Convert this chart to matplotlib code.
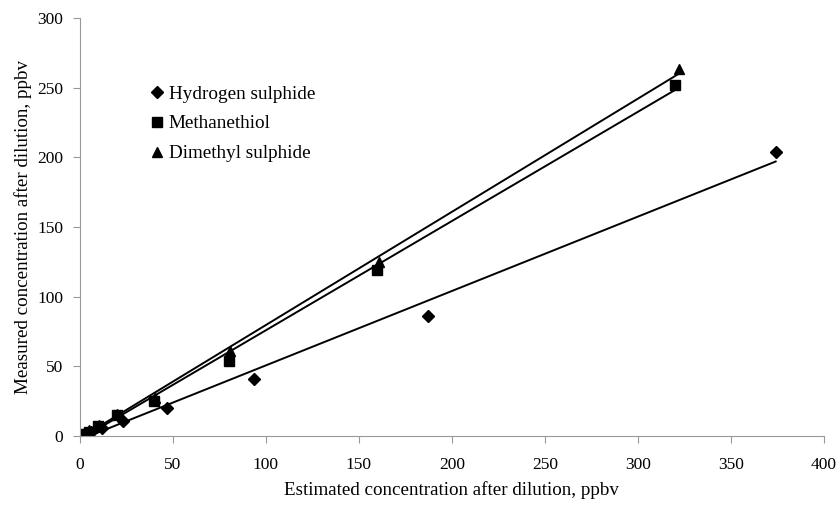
import numpy as np
import matplotlib.pyplot as plt

plt.rcParams["font.family"] = "Liberation Serif"
plt.rcParams["font.size"] = 12.5

# estimated concentration after dilution (ppbv)
h2s_x = [1.46, 2.92, 5.84, 11.7, 23.4, 46.7, 93.5, 187, 374]
h2s_y = [0.8, 1.5, 3.0, 6.0, 11, 20, 41, 86, 204]
mt_x = [1.25, 2.5, 5.0, 10, 20, 40, 80, 160, 320]
mt_y = [0.8, 1.5, 3.0, 7.0, 15, 25, 54, 119, 252]
dms_x = [1.26, 2.52, 5.04, 10.1, 20.1, 40.3, 80.5, 161, 322]
dms_y = [1.0, 2.0, 4.0, 8.0, 16, 27, 61, 125, 263]

series = [
    ("Hydrogen sulphide", h2s_x, h2s_y, "D", 6.5),
    ("Methanethiol", mt_x, mt_y, "s", 6.5),
    ("Dimethyl sulphide", dms_x, dms_y, "^", 7.5),
]

fig = plt.figure(figsize=(8.4, 5.11), dpi=100)
ax = fig.add_axes([0.095, 0.147, 0.886, 0.818])

for name, x, y, m, ms in series:
    x = np.array(x)
    y = np.array(y)
    ax.plot(x, y, linestyle="none", marker=m, markersize=ms, color="black", label=name)
    # linear trend line
    k, b = np.polyfit(x, y, 1)
    xx = np.array([x.min(), x.max()])
    ax.plot(xx, k * xx + b, color="black", linewidth=1.4)

ax.set_xlim(0, 400)
ax.set_ylim(0, 300)
ax.set_xticks(range(0, 401, 50))
ax.set_yticks(range(0, 301, 50))
for s in ["top", "right"]:
    ax.spines[s].set_visible(False)
for s in ["left", "bottom"]:
    ax.spines[s].set_color("#999999")
    ax.spines[s].set_linewidth(0.8)
ax.tick_params(direction="out", length=5, color="#999999", width=0.8)
ax.tick_params(axis="x", pad=10)
ax.tick_params(axis="y", pad=7)
ax.set_xlabel("Estimated concentration after dilution, ppbv", fontsize=13.7, labelpad=6)
ax.set_ylabel("Measured concentration after dilution, ppbv", fontsize=13.7, labelpad=4)

ax.legend(loc="upper left", bbox_to_anchor=(0.0795, 0.862), frameon=False, fontsize=13.8,
          handletextpad=0.15, handlelength=0.9, labelspacing=0.65, borderpad=0)

fig.savefig("out.png", dpi=100)
